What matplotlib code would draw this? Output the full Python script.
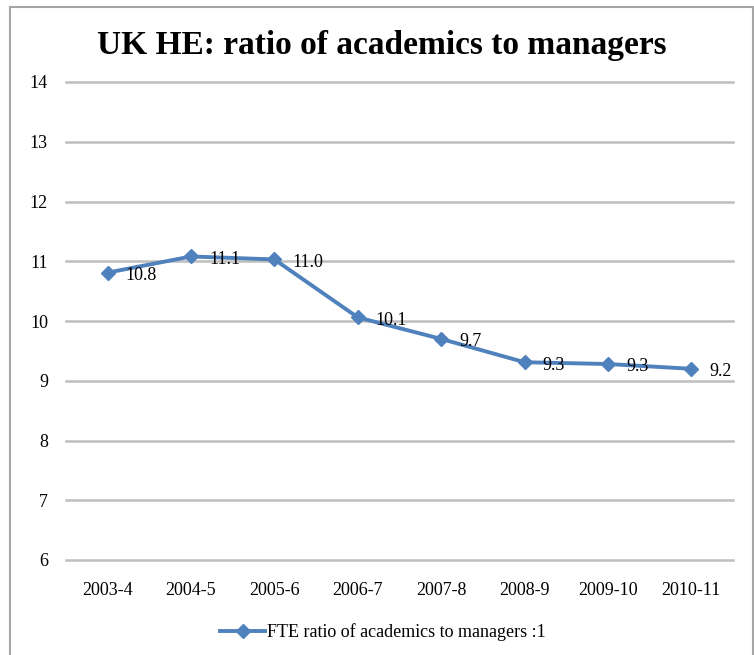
import matplotlib
matplotlib.use("Agg")
import matplotlib.pyplot as plt
from matplotlib.patches import Rectangle

# data
years = ["2003-4", "2004-5", "2005-6", "2006-7", "2007-8", "2008-9", "2009-10", "2010-11"]
ratio = [10.81, 11.08, 11.03, 10.06, 9.70, 9.31, 9.28, 9.20]
labels = ["10.8", "11.1", "11.0", "10.1", "9.7", "9.3", "9.3", "9.2"]
yticks = [6, 7, 8, 9, 10, 11, 12, 13, 14]

plt.rcParams['font.family'] = ['Liberation Serif', 'DejaVu Serif']

fig = plt.figure(figsize=(7.54, 6.55), dpi=100)
ax = fig.add_axes([66 / 754, 1 - 560 / 655, 667 / 754, 478 / 655])

x = list(range(len(years)))
line, = ax.plot(x, ratio, color='#4F81BD', lw=2.8, marker='D', ms=7,
                label='FTE ratio of academics to managers :1', zorder=3)
for xi, yi, lab in zip(x, ratio, labels):
    ax.annotate(lab, (xi, yi), xytext=(13, -2), textcoords='offset points',
                va='center', ha='left', fontsize=13, color='black', zorder=4)

ax.set_xlim(-0.5, len(years) - 0.5)
ax.set_ylim(6, 14)
ax.set_yticks(yticks)
ax.set_xticks(x)
ax.set_xticklabels(years)
ax.tick_params(axis='both', length=0, labelsize=13, colors='black')
ax.tick_params(axis='y', pad=13)
ax.tick_params(axis='x', pad=16)
ax.grid(axis='y', color='#BFBFBF', lw=1.8)
for g in ax.get_ygridlines():
    g.set_clip_on(False)
ax.set_axisbelow(True)
for s in ax.spines.values():
    s.set_visible(False)

fig.text(0.506, 0.931, "UK HE: ratio of academics to managers", ha='center', va='center',
         fontsize=24, fontweight='bold')

fig.legend(handles=[line], loc='center', bbox_to_anchor=(0.508, 0.035), frameon=False,
           fontsize=13, handlelength=2.5, handletextpad=0.1)

fig.patches.append(Rectangle((9.5 / 754, -0.05), 743 / 754, 1.05 - 6.7 / 655,
                             transform=fig.transFigure, fill=False, ec='#A6A6A6', lw=1.5))

fig.savefig("out.png", dpi=100)
